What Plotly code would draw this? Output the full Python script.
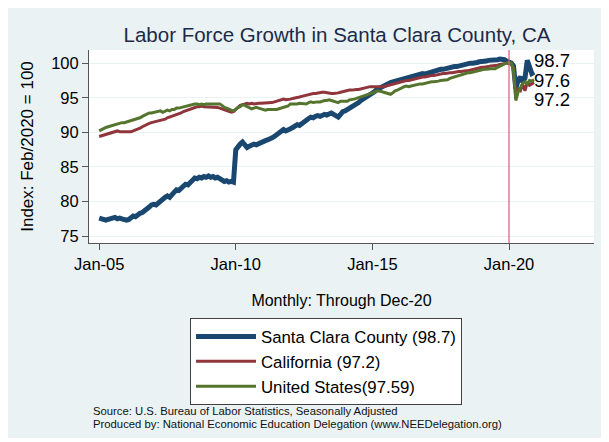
import pandas as pd
import plotly.graph_objects as go

# ---------------- data (monthly index, Feb 2020 = 100) ----------------
months = pd.date_range("2005-01-01", "2020-12-01", freq="MS")

santa_clara = [
    77.6, 77.5, 77.3, 77.3, 77.4, 77.5, 77.6, 77.7, 77.5, 77.6, 77.5, 77.4,   # 2005
    77.3, 77.4, 77.6, 77.9, 77.8, 78.1, 78.3, 78.4, 78.6, 78.9, 79.2, 79.5,   # 2006
    79.6, 79.5, 79.8, 80.0, 80.3, 80.6, 80.8, 80.6, 81.0, 81.4, 81.7, 81.6,   # 2007
    81.9, 82.2, 82.5, 82.4, 82.8, 83.2, 83.4, 83.3, 83.5, 83.4, 83.6, 83.5,   # 2008
    83.7, 83.5, 83.6, 83.4, 83.5, 83.3, 83.1, 82.9, 83.0, 82.8, 82.9, 82.8,   # 2009
    87.5, 88.0, 88.3, 88.6, 88.2, 87.8, 88.0, 88.1, 88.3, 88.2, 88.4, 88.5,   # 2010
    88.6, 88.8, 88.9, 89.0, 89.2, 89.4, 89.6, 89.8, 90.2, 90.4, 90.2, 90.3,   # 2011
    90.5, 90.7, 90.9, 91.1, 91.0, 91.3, 91.6, 91.8, 92.0, 92.2, 92.1, 92.3,   # 2012
    92.4, 92.3, 92.5, 92.6, 92.5, 92.7, 92.8, 92.6, 92.4, 92.2, 92.6, 93.0,   # 2013
    93.1, 93.3, 93.5, 93.6, 93.9, 94.2, 94.3, 94.6, 94.8, 94.9, 95.2, 95.4,   # 2014
    95.6, 95.9, 96.2, 96.4, 96.6, 96.7, 96.8, 97.0, 97.2, 97.3, 97.4, 97.5,   # 2015
    97.6, 97.7, 97.8, 97.9, 98.0, 98.1, 98.2, 98.2, 98.3, 98.4, 98.5, 98.4,   # 2016
    98.5, 98.7, 98.8, 98.9, 98.9, 99.0, 99.1, 99.1, 99.2, 99.3, 99.4, 99.4,   # 2017
    99.5, 99.5, 99.6, 99.7, 99.8, 99.8, 99.9, 100.0, 100.0, 100.0, 100.1, 100.2,  # 2018
    100.2, 100.3, 100.3, 100.4, 100.4, 100.5, 100.4, 100.5, 100.6, 100.6, 100.5, 100.3,  # 2019
    100.2, 100.0, 99.6, 96.3, 97.5, 98.0, 97.3, 97.8, 100.4, 99.5, 98.5, 98.7,  # 2020
]

california = [
    89.4, 89.5, 89.6, 89.6, 89.7, 89.8, 89.9, 90.0, 90.2, 90.1, 90.1, 90.0,
    90.0, 90.0, 90.1, 90.2, 90.3, 90.5, 90.6, 90.8, 91.0, 91.2, 91.3, 91.4,
    91.5, 91.5, 91.6, 91.7, 91.8, 91.9, 92.1, 92.2, 92.4, 92.5, 92.6, 92.7,
    92.8, 93.0, 93.1, 93.3, 93.4, 93.5, 93.6, 93.7, 93.7, 93.8, 93.7, 93.7,
    93.7, 93.6, 93.7, 93.6, 93.6, 93.5, 93.4, 93.2, 93.1, 93.0, 92.9, 93.0,
    93.3, 93.6, 93.9, 94.0, 94.1, 94.2, 94.1, 94.2, 94.1, 94.2, 94.2, 94.2,
    94.2, 94.2, 94.3, 94.3, 94.3, 94.4, 94.5, 94.7, 94.8, 94.8, 94.7, 94.7,
    94.8, 94.9, 95.0, 95.1, 95.1, 95.2, 95.3, 95.4, 95.5, 95.5, 95.6, 95.6,
    95.7, 95.7, 95.8, 95.8, 95.7, 95.7, 95.6, 95.6, 95.6, 95.7, 95.8, 95.9,
    96.0, 96.0, 96.1, 96.1, 96.2, 96.2, 96.2, 96.3, 96.4, 96.5, 96.5, 96.6,
    96.6, 96.6, 96.5, 96.5, 96.5, 96.6, 96.7, 96.8, 96.9, 97.0, 97.1, 97.1,
    97.2, 97.3, 97.4, 97.5, 97.5, 97.6, 97.7, 97.7, 97.8, 97.9, 98.0, 98.0,
    98.1, 98.1, 98.2, 98.2, 98.3, 98.4, 98.4, 98.5, 98.5, 98.6, 98.6, 98.6,
    98.7, 98.7, 98.8, 98.8, 98.9, 98.9, 98.9, 99.0, 99.1, 99.2, 99.2, 99.3,
    99.4, 99.4, 99.5, 99.5, 99.6, 99.6, 99.7, 99.7, 99.8, 99.9, 99.9, 100.0,
    100.0, 100.0, 99.3, 94.8, 96.2, 96.0, 97.0, 96.0, 97.2, 96.8, 97.0, 97.2,
]

united_states = [
    90.2, 90.4, 90.5, 90.7, 90.8, 90.9, 91.1, 91.2, 91.3, 91.3, 91.4, 91.4,
    91.5, 91.6, 91.7, 91.7, 91.8, 91.9, 92.1, 92.3, 92.5, 92.7, 92.8, 92.8,
    92.9, 93.0, 93.0, 93.1, 92.9, 93.1, 93.2, 93.1, 93.3, 93.3, 93.5, 93.5,
    93.6, 93.6, 93.7, 93.8, 93.9, 94.0, 94.1, 94.1, 94.0, 94.1, 94.0, 94.1,
    94.1, 94.0, 94.1, 94.0, 94.1, 94.1, 93.9, 93.6, 93.5, 93.3, 93.2, 93.1,
    93.4, 93.6, 93.7, 94.0, 93.9, 93.7, 93.6, 93.4, 93.5, 93.6, 93.5, 93.4,
    93.3, 93.2, 93.3, 93.3, 93.2, 93.3, 93.3, 93.4, 93.5, 93.6, 93.6, 93.8,
    94.1, 94.1, 94.0, 94.1, 94.2, 94.2, 94.2, 94.1, 94.3, 94.4, 94.3, 94.4,
    94.4, 94.4, 94.5, 94.6, 94.6, 94.7, 94.6, 94.5, 94.4, 94.3, 94.5, 94.5,
    94.4, 94.5, 94.7, 94.7, 94.8, 94.9, 95.0, 95.1, 95.2, 95.4, 95.5, 95.5,
    95.6, 95.8, 96.0, 96.0, 95.9, 95.8, 95.7, 95.6, 95.5, 95.7, 96.0, 96.1,
    96.3, 96.5, 96.6, 96.7, 96.6, 96.7, 96.8, 96.9, 97.0, 97.0, 97.0, 97.1,
    97.2, 97.3, 97.3, 97.3, 97.3, 97.4, 97.5, 97.5, 97.6, 97.6, 97.8, 97.9,
    98.1, 98.2, 98.3, 98.3, 98.4, 98.5, 98.6, 98.6, 98.7, 98.8, 98.9, 98.9,
    99.0, 99.1, 99.1, 99.2, 99.2, 99.2, 99.2, 99.4, 99.6, 99.8, 99.9, 100.0,
    100.1, 100.0, 99.0, 94.6, 95.8, 96.4, 97.1, 97.3, 97.0, 97.5, 97.4, 97.59,
]

series_names = ["Santa Clara County (98.7)", "California (97.2)", "United States(97.59)"]
end_labels = ["98.7", "97.6", "97.2"]
end_values = [santa_clara[-1], united_states[-1], california[-1]]
end_label_shift = [12, -1, -17]

x_tick_vals = ["2005-01-01", "2010-01-01", "2015-01-01", "2020-01-01"]
x_tick_text = ["Jan-05", "Jan-10", "Jan-15", "Jan-20"]
y_tick_vals = [75, 80, 85, 90, 95, 100]
marker_date = "2020-01-01"

# ---------------- styling ----------------
NAVY = "#1a476f"
MAROON = "#90353b"
GREEN = "#55752f"
BG = "#eaf2f3"
FONT = "Liberation Sans, Arial, sans-serif"

fig = go.Figure()
fig.add_trace(go.Scatter(x=months, y=santa_clara, mode="lines", name=series_names[0],
                         line=dict(color=NAVY, width=5)))
fig.add_trace(go.Scatter(x=months, y=california, mode="lines", name=series_names[1],
                         line=dict(color=MAROON, width=3)))
fig.add_trace(go.Scatter(x=months, y=united_states, mode="lines", name=series_names[2],
                         line=dict(color=GREEN, width=3)))

# vertical marker at Jan-20
fig.add_shape(type="line", x0=marker_date, x1=marker_date, y0=0, y1=1,
              xref="x", yref="paper", line=dict(color="#e0567a", width=1.2), layer="above")

# end-of-series labels
for lab, val, sh in zip(end_labels, end_values, end_label_shift):
    fig.add_annotation(x=months[-1], y=val, text=lab, showarrow=False,
                       xanchor="left", yanchor="middle", xshift=-1, yshift=sh,
                       borderpad=0,
                       font=dict(size=18.5, color="black", family=FONT))

# white page edges (right and bottom) around the grey panel
fig.add_shape(type="rect", xref="paper", yref="paper",
              x0=1.0218, x1=1.1, y0=-1.2, y1=1.3,
              fillcolor="white", line=dict(width=0), layer="below")
fig.add_shape(type="rect", xref="paper", yref="paper",
              x0=-0.3, x1=1.1, y0=-1.2, y1=-1.0104,
              fillcolor="white", line=dict(width=0), layer="below")

# source notes
fig.add_annotation(xref="paper", yref="paper", x=0.004, y=-0.872, xanchor="left", yanchor="middle",
                   text="Source: U.S. Bureau of Labor Statistics, Seasonally Adjusted",
                   showarrow=False, font=dict(size=11.3, color="#111", family=FONT))
fig.add_annotation(xref="paper", yref="paper", x=0.004, y=-0.940, xanchor="left", yanchor="middle",
                   text="Produced by: National Economic Education Delegation (www.NEEDelegation.org)",
                   showarrow=False, font=dict(size=11.3, color="#111", family=FONT))

fig.update_layout(
    width=601, height=434,
    margin=dict(l=81, r=15, t=42, b=199),
    paper_bgcolor=BG, plot_bgcolor="white",
    font=dict(family=FONT, color="black"),
    title=dict(text="Labor Force Growth in Santa Clara County, CA",
               x=329 / 601, xanchor="center", y=1 - 27 / 434, yanchor="middle",
               font=dict(size=20.5, color="#1c2a4a", family=FONT)),
    showlegend=True,
    legend=dict(x=0.2, y=-0.389, xanchor="left", yanchor="top",
                bgcolor="white", bordercolor="#404040", borderwidth=1,
                font=dict(size=16.8, color="black", family=FONT),
                itemwidth=60, tracegroupgap=0),
)

fig.update_xaxes(
    type="date", automargin=False,
    range=["2004-08-18", "2023-02-10"],
    tickvals=x_tick_vals, ticktext=x_tick_text,
    ticks="outside", ticklen=6, tickcolor="#555", tickwidth=1,
    tickfont=dict(size=16.5, color="black"),
    showline=True, linecolor="#555", linewidth=1,
    showgrid=False, zeroline=False,
    title=dict(text="Monthly: Through Dec-20", standoff=23,
               font=dict(size=16, color="black")),
)
fig.update_yaxes(
    automargin=False,
    range=[74.0, 101.9],
    tickvals=y_tick_vals,
    ticks="outside", ticklen=6, tickcolor="#555", tickwidth=1,
    tickfont=dict(size=16.5, color="black"),
    showline=True, linecolor="#555", linewidth=1,
    showgrid=True, gridcolor=BG, gridwidth=1, zeroline=False,
    title=dict(text="Index: Feb/2020 = 100", standoff=13,
               font=dict(size=17, color="black")),
)

fig.write_html("out.html")
